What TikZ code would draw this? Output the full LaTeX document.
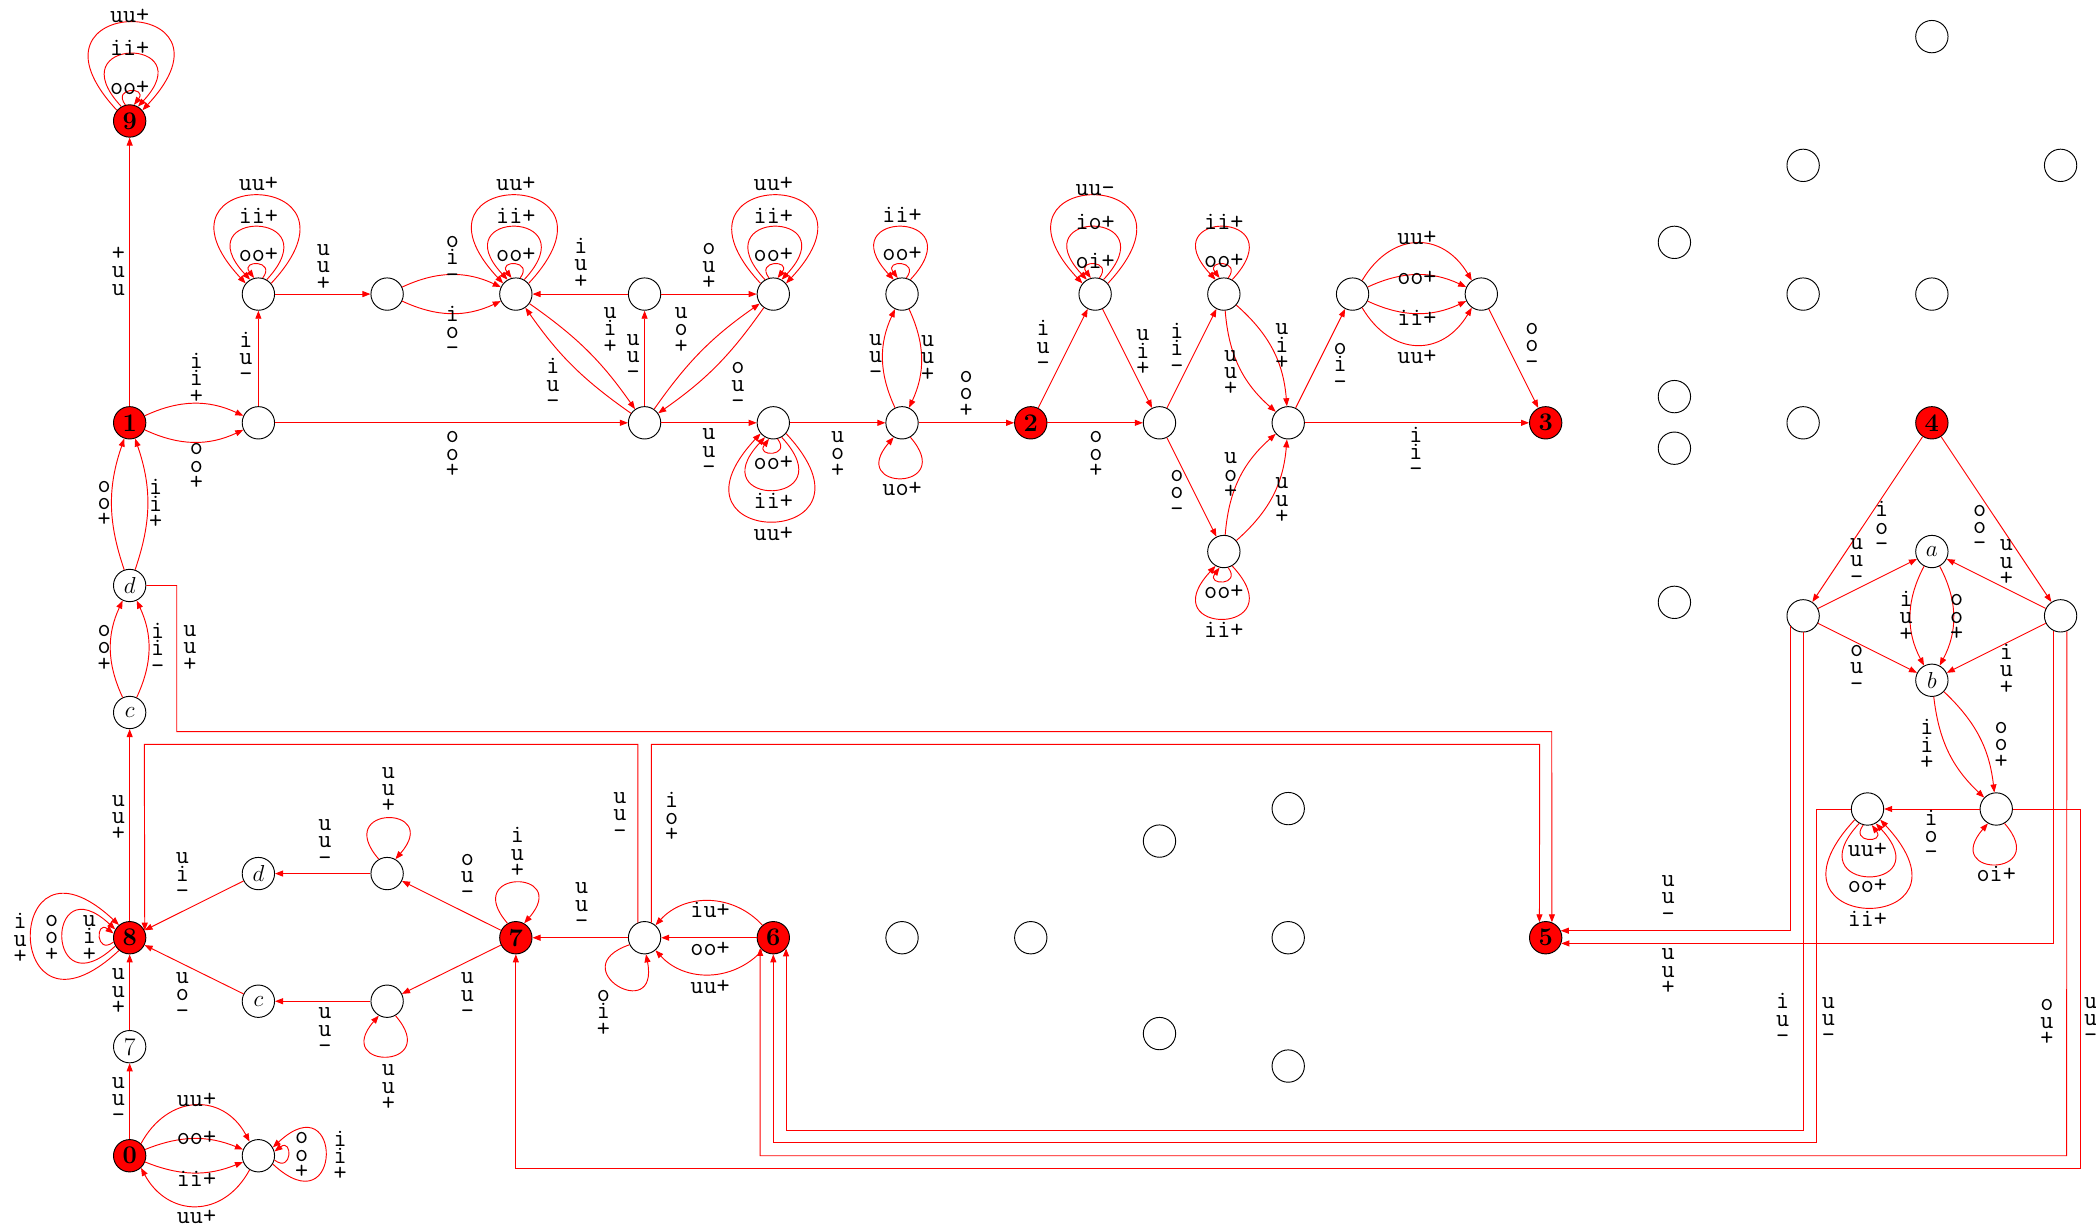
\documentclass[tikz,border=0pt]{standalone}
\usetikzlibrary{arrows.meta}
\tikzset{
 wn/.style={circle,draw=black,line width=0.7pt,minimum size=24.2pt,inner sep=0pt,font=\fontsize{19}{19}\selectfont},
 rn/.style={wn,fill=red},
 ed/.style={draw=red,line width=0.7pt,-{Triangle[length=6pt,width=4.5pt]}},
 lb/.style={font=\fontsize{19}{13}\selectfont\ttfamily,align=center,inner sep=0pt},
}
\newcommand\mn{\textendash}
\newcommand\lpA[5]{\pgfmathsetmacro\LPs{#2-#3}\pgfmathsetmacro\LPe{#2+#3}\pgfmathsetmacro\LPcs{#2-#5}\pgfmathsetmacro\LPce{#2+#5}\draw[ed] (#1.\LPs) .. controls +(\LPcs:#4) and +(\LPce:#4) .. (#1.\LPe);}
\newcommand\lpB[5]{\pgfmathsetmacro\LPs{#2-#3}\pgfmathsetmacro\LPe{#2+#3}\pgfmathsetmacro\LPcs{#2-#5}\pgfmathsetmacro\LPce{#2+#5}\draw[ed] (#1.\LPe) .. controls +(\LPce:#4) and +(\LPcs:#4) .. (#1.\LPs);}
\begin{document}
\begin{tikzpicture}[x=1pt,y=1pt]
\path[use as bounding box,fill=white] (0,0) rectangle (1568,-918);
% ---------- nodes top group
\node[rn] (n9) at (97,-90.5) {\textbf{9}};
\node[rn] (n1) at (97,-316.3) {\textbf{1}};
\node[wn] (nA) at (193.3,-316.3) {};
\node[wn] (nB) at (193.3,-220) {};
\node[wn] (nC) at (289.6,-220) {};
\node[wn] (nD) at (385.9,-220) {};
\node[wn] (nE) at (482.2,-220) {};
\node[wn] (nF) at (578.5,-220) {};
\node[wn] (nG) at (482.2,-316.3) {};
\node[wn] (nH) at (578.5,-316.3) {};
\node[wn] (nI) at (674.8,-220) {};
\node[wn] (nJ) at (674.8,-316.3) {};
\node[rn] (n2) at (771.1,-316.3) {\textbf{2}};
\node[wn] (nK) at (819.25,-220) {};
\node[wn] (nL) at (867.4,-316.3) {};
\node[wn] (nM) at (915.55,-220) {};
\node[wn] (nN) at (963.7,-316.3) {};
\node[wn] (nO) at (915.55,-412.6) {};
\node[wn] (nP) at (1011.85,-220) {};
\node[wn] (nQ) at (1108.15,-220) {};
\node[rn] (n3) at (1156.3,-316.3) {\textbf{3}};
% ---------- isolated
\node[wn] (i1) at (1445.2,-27.4) {};
\node[wn] (i2) at (1348.9,-123.7) {};
\node[wn] (i3) at (1541.5,-123.7) {};
\node[wn] (i4) at (1252.6,-181.3) {};
\node[wn] (i5) at (1348.9,-220) {};
\node[wn] (i6) at (1445.2,-220) {};
\node[wn] (i7) at (1252.6,-296.7) {};
\node[wn] (i8) at (1252.6,-335.3) {};
\node[wn] (i9) at (1348.9,-316.3) {};
\node[wn] (i10) at (1252.6,-450.6) {};
\node[wn] (i11) at (674.8,-701.5) {};
\node[wn] (i12) at (771.1,-701.5) {};
\node[wn] (i13) at (867.4,-629.2) {};
\node[wn] (i14) at (963.7,-604.9) {};
\node[wn] (i15) at (963.7,-701.5) {};
\node[wn] (i16) at (867.4,-773.2) {};
\node[wn] (i17) at (963.7,-797.5) {};
% ---------- right group
\node[rn] (n4) at (1445.2,-316.3) {\textbf{4}};
\node[wn] (na) at (1445.2,-412.6) {$a$};
\node[wn] (nb) at (1445.2,-508.9) {$b$};
\node[wn] (nL4) at (1348.9,-460.7) {};
\node[wn] (nR4) at (1541.5,-460.7) {};
\node[wn] (nS) at (1397.05,-605.2) {};
\node[wn] (nT) at (1493.35,-605.2) {};
% ---------- bottom group
\node[rn] (n5) at (1156.3,-701.5) {\textbf{5}};
\node[rn] (n6) at (578.5,-701.5) {\textbf{6}};
\node[wn] (nU) at (482.2,-701.5) {};
\node[rn] (n7r) at (385.9,-701.5) {\textbf{7}};
\node[wn] (nV) at (289.6,-653.5) {};
\node[wn] (nW) at (289.6,-749) {};
\node[wn] (nd2) at (193.3,-653.5) {$d$};
\node[wn] (nc2) at (193.3,-749) {$c$};
\node[rn] (n8) at (97,-701.5) {\textbf{8}};
\node[wn] (ns7) at (97,-783) {7};
\node[rn] (n0) at (97,-864.6) {\textbf{0}};
\node[wn] (nX) at (193.3,-864.6) {};
\node[wn] (nd1) at (97,-438) {$d$};
\node[wn] (nc1) at (97,-533) {$c$};
% ---------- edges top
\draw[ed] (n1) -- (n9);
\draw[ed] (n1) to[bend left=25] (nA);
\draw[ed] (n1) to[bend right=25] (nA);
\draw[ed] (nA) -- (nB);
\draw[ed] (nB) -- (nC);
\draw[ed] (nC) to[bend left=25] (nD);
\draw[ed] (nC) to[bend right=25] (nD);
\draw[ed] (nE) -- (nD);
\draw[ed] (nE) -- (nF);
\draw[ed] (nD) to[bend left=10] (nG);
\draw[ed] (nG) to[bend left=10] (nD);
\draw[ed] (nG) -- (nE);
\draw[ed] (nG) to[bend left=10] (nF);
\draw[ed] (nF) to[bend left=10] (nG);
\draw[ed] (nA) -- (nG);
\draw[ed] (nG) -- (nH);
\draw[ed] (nH) -- (nJ);
\draw[ed] (nJ) to[bend left=25] (nI);
\draw[ed] (nI) to[bend left=25] (nJ);
\draw[ed] (nJ) -- (n2);
\draw[ed] (n2) -- (nK);
\draw[ed] (nK) -- (nL);
\draw[ed] (n2) -- (nL);
\draw[ed] (nL) -- (nM);
\draw[ed] (nM) to[bend left=22] (nN);
\draw[ed] (nM) to[bend right=22] (nN);
\draw[ed] (nL) -- (nO);
\draw[ed] (nO) to[bend left=22] (nN);
\draw[ed] (nO) to[bend right=22] (nN);
\draw[ed] (nN) -- (nP);
\draw[ed] (nP.55) .. controls +(22,37) and +(-22,37) .. (nQ.125);
\draw[ed] (nP) to[bend left=25] (nQ);
\draw[ed] (nP) to[bend right=25] (nQ);
\draw[ed] (nP.-55) .. controls +(22,-37) and +(-22,-37) .. (nQ.-125);
\draw[ed] (nQ) -- (n3);
\draw[ed] (nN) -- (n3);
% loops top group
\lpB{n9}{90}{15}{17}{37} \lpB{n9}{90}{30}{72}{43} \lpB{n9}{90}{50}{120}{43}
\lpA{nB}{90}{15}{17}{37} \lpA{nB}{90}{30}{72}{43} \lpA{nB}{90}{50}{120}{43}
\lpA{nD}{90}{15}{17}{37} \lpA{nD}{90}{30}{72}{43} \lpA{nD}{90}{50}{120}{43}
\lpB{nF}{90}{15}{17}{37} \lpB{nF}{90}{30}{72}{43} \lpB{nF}{90}{50}{120}{43}
\lpB{nH}{270}{15}{17}{37} \lpB{nH}{270}{30}{72}{43} \lpB{nH}{270}{50}{120}{43}
\lpA{nI}{90}{15}{17}{37} \lpA{nI}{90}{30}{72}{43}
\lpB{nJ}{270}{30}{54}{41}
\lpA{nK}{90}{15}{17}{37} \lpA{nK}{90}{30}{72}{43} \lpA{nK}{90}{50}{120}{43}
\lpA{nM}{90}{15}{17}{37} \lpA{nM}{90}{30}{72}{43}
\lpB{nO}{270}{15}{17}{37} \lpB{nO}{270}{30}{72}{43}
% ---------- edges right
\draw[ed] (n4) -- (nL4);
\draw[ed] (n4) -- (nR4);
\draw[ed] (nL4) -- (na);
\draw[ed] (nR4) -- (na);
\draw[ed] (nL4) -- (nb);
\draw[ed] (nR4) -- (nb);
\draw[ed] (na) to[bend right=28] (nb);
\draw[ed] (na) to[bend left=28] (nb);
\draw[ed] (nb) to[bend right=20] (nT);
\draw[ed] (nb) to[bend left=20] (nT);
\draw[ed] (nT) -- (nS);
\lpA{nS}{270}{15}{17}{37} \lpA{nS}{270}{30}{72}{43} \lpA{nS}{270}{50}{120}{43}
\lpB{nT}{270}{30}{54}{41}
% ---------- long routed edges
\draw[ed] (nd1.east) -| (132.2,-547.3) -- (1160.83,-547.3) -- (n5.68);
\draw[ed] (nU.66) |- (1151.77,-556.8) -- (n5.112);
\draw[ed] (nU.114) |- (107.97,-556.8) -- (n8.25);
\draw[ed] (nL4.218) |- (n5.25);
\draw[ed] (nR4.246) |- (n5.-20);
\draw[ed] (nL4.south) -- (1348.9,-845.4) -| (n6.-40);
\draw[ed] (nS.west) -| (1358.6,-854.9) -| (n6.south);
\draw[ed] (nR4.292) -- (1546.03,-864.6) -| (n6.218);
\draw[ed] (nT.east) -| (1556,-874) -| (n7r.south);
% ---------- edges bottom
\draw[ed] (nd1) to[bend left=19] (n1);
\draw[ed] (nd1) to[bend right=19] (n1);
\draw[ed] (nc1) to[bend left=25] (nd1);
\draw[ed] (nc1) to[bend right=25] (nd1);
\draw[ed] (n8) -- (nc1);
\draw[ed] (ns7) -- (n8);
\draw[ed] (n0) -- (ns7);
\draw[ed] (nd2) -- (n8);
\draw[ed] (nc2) -- (n8);
\draw[ed] (nV) -- (nd2);
\draw[ed] (nW) -- (nc2);
\draw[ed] (n7r) -- (nV);
\draw[ed] (n7r) -- (nW);
\draw[ed] (nU) -- (n7r);
\draw[ed] (n6.131) .. controls +(-22,24) and +(22,24) .. (nU.49);
\draw[ed] (n6) -- (nU);
\draw[ed] (n6.-131) .. controls +(-22,-24) and +(22,-24) .. (nU.-49);
\draw[ed] (n0.47) .. controls +(20,37) and +(-20,37) .. (nX.122);
\draw[ed] (n0) to[bend left=22] (nX);
\draw[ed] (n0) to[bend right=22] (nX);
\draw[ed] (nX.-122) .. controls +(-20,-37) and +(20,-37) .. (n0.-47);
\lpB{nV}{90}{30}{54}{41}
\lpB{nW}{270}{30}{54}{41}
\lpB{n7r}{90}{30}{54}{41}
\lpA{nU}{240}{35}{54}{41}
\lpB{n8}{180}{15}{17}{37} \lpB{n8}{180}{30}{72}{43} \lpB{n8}{180}{50}{120}{43}
\lpA{nX}{0}{15}{17}{37} \lpA{nX}{0}{30}{72}{43}
% ---------- labels top group
\node[lb] (t1) at (88.5,-203) {+\\u\\u};
\node[lb] (t2) at (147,-283) {i\\i\\+};
\node[lb] (t3) at (147,-349) {o\\o\\+};
\node[lb] (t4) at (184,-267) {i\\u\\\mn};
\node[lb] (t5) at (242,-200) {u\\u\\+};
\node[lb] (t6) at (338.4,-194) {o\\i\\\mn};
\node[lb] (t7) at (338.4,-247.6) {i\\o\\\mn};
\node[lb] (t8) at (434.6,-197) {i\\u\\+};
\node[lb] (t9) at (530.4,-199.5) {o\\u\\+};
\node[lb] (t10) at (456.4,-247) {u\\i\\+};
\node[lb] (t11) at (413.6,-287) {i\\u\\\mn};
\node[lb] (t12) at (473.6,-267) {u\\u\\\mn};
\node[lb] (t13) at (509.5,-247) {u\\o\\+};
\node[lb] (t14) at (552,-288.5) {o\\u\\\mn};
\node[lb] (t15) at (338.4,-340) {o\\o\\+};
\node[lb] (t16) at (530.4,-338) {u\\u\\\mn};
\node[lb] (t17) at (626.6,-340) {u\\o\\+};
\node[lb] (t18) at (655,-267) {u\\u\\\mn};
\node[lb] (t19) at (694,-268) {u\\u\\+};
\node[lb] (t20) at (722.7,-295) {o\\o\\+};
\node[lb] (t21) at (780.3,-258.5) {i\\u\\\mn};
\node[lb] (t22) at (855,-264) {u\\i\\+};
\node[lb] (t23) at (819.8,-340) {o\\o\\+};
\node[lb] (t24) at (880.5,-260.5) {i\\i\\\mn};
\node[lb] (t25) at (920.6,-279) {u\\u\\+};
\node[lb] (t26) at (959,-259.5) {u\\i\\+};
\node[lb] (t27) at (880.5,-369) {o\\o\\\mn};
\node[lb] (t28) at (920.6,-356) {u\\o\\+};
\node[lb] (t29) at (959,-374.6) {u\\u\\+};
\node[lb] (t30) at (1002.5,-274) {o\\i\\\mn};
\node[lb] (t31) at (1060,-178.3) {uu+};
\node[lb] (t32) at (1060,-207.7) {oo+};
\node[lb] (t33) at (1060,-238.1) {ii+};
\node[lb] (t34) at (1060,-267.3) {uu+};
\node[lb] (t35) at (1146,-259) {o\\o\\\mn};
\node[lb] (t36) at (1059.2,-338) {i\\i\\\mn};
% loop labels top
\node[lb] (s1) at (97,-65.5) {oo+};
\node[lb] (s2) at (97,-36) {ii+};
\node[lb] (s3) at (97,-12) {uu+};
\node[lb] (s4) at (193.3,-190.8) {oo+};
\node[lb] (s5) at (193.3,-161.3) {ii+};
\node[lb] (s6) at (193.3,-137.2) {uu+};
\node[lb] (s7) at (385.9,-190.8) {oo+};
\node[lb] (s8) at (385.9,-161.3) {ii+};
\node[lb] (s9) at (385.9,-137.2) {uu+};
\node[lb] (s10) at (578.5,-190.8) {oo+};
\node[lb] (s11) at (578.5,-161.3) {ii+};
\node[lb] (s12) at (578.5,-137.2) {uu+};
\node[lb] (s13) at (578.5,-346) {oo+};
\node[lb] (s14) at (578.5,-374.9) {ii+};
\node[lb] (s15) at (578.5,-399.1) {uu+};
\node[lb] (s16) at (674.8,-190.3) {oo+};
\node[lb] (s17) at (674.8,-160.8) {ii+};
\node[lb] (s18) at (674.8,-366) {uo+};
\node[lb] (s19) at (819.25,-195.3) {oi+};
\node[lb] (s20) at (819.25,-165.8) {io+};
\node[lb] (s21) at (819.25,-142) {uu\mn};
\node[lb] (s22) at (915.55,-195.3) {oo+};
\node[lb] (s23) at (915.55,-165.8) {ii+};
\node[lb] (s24) at (915.55,-442.6) {oo+};
\node[lb] (s25) at (915.55,-471.3) {ii+};
% labels right group
\node[lb] (r1) at (1407.7,-394) {i\\o\\\mn};
\node[lb] (r2) at (1481,-395) {o\\o\\\mn};
\node[lb] (r3) at (1389,-420) {u\\u\\\mn};
\node[lb] (r4) at (1501,-421) {u\\u\\+};
\node[lb] (r5) at (1426,-461) {i\\u\\+};
\node[lb] (r6) at (1463.8,-462) {o\\o\\+};
\node[lb] (r7) at (1389,-500) {o\\u\\\mn};
\node[lb] (r8) at (1501,-500.6) {i\\u\\+};
\node[lb] (r9) at (1441.4,-557) {i\\i\\+};
\node[lb] (r10) at (1497,-557.5) {o\\o\\+};
\node[lb] (r11) at (1444.6,-624.5) {i\\o\\\mn};
\node[lb] (r12) at (1397,-635.5) {uu+};
\node[lb] (r13) at (1397,-663) {oo+};
\node[lb] (r14) at (1397,-687.5) {ii+};
\node[lb] (r15) at (1493.35,-654) {oi+};
\node[lb] (r16) at (1248,-672) {u\\u\\\mn};
\node[lb] (r17) at (1248,-727) {u\\u\\+};
\node[lb] (r18) at (1333.6,-762) {i\\u\\\mn};
\node[lb] (r19) at (1367.8,-763) {u\\u\\\mn};
\node[lb] (r20) at (1531.2,-765) {o\\u\\+};
\node[lb] (r21) at (1564,-763) {u\\u\\\mn};
% labels bottom group
\node[lb] (b1) at (78,-377) {o\\o\\+};
\node[lb] (b2) at (116.5,-377) {i\\i\\+};
\node[lb] (b3) at (78,-485) {o\\o\\+};
\node[lb] (b4) at (118,-485) {i\\i\\\mn};
\node[lb] (b5) at (142,-485) {u\\u\\+};
\node[lb] (b6) at (88.5,-612) {u\\u\\+};
\node[lb] (b7) at (88.5,-742) {u\\u\\+};
\node[lb] (b8) at (88.5,-823) {u\\u\\\mn};
\node[lb] (b9) at (136.4,-655) {u\\i\\\mn};
\node[lb] (b10) at (136.4,-744.5) {u\\o\\\mn};
\node[lb] (b11) at (243,-630) {u\\u\\\mn};
\node[lb] (b12) at (243,-771) {u\\u\\\mn};
\node[lb] (b13) at (290.5,-591) {u\\u\\+};
\node[lb] (b14) at (290.5,-813.6) {u\\u\\+};
\node[lb] (b15) at (349.6,-656) {o\\u\\\mn};
\node[lb] (b16) at (349.6,-745) {u\\u\\\mn};
\node[lb] (b17) at (387,-637.7) {i\\u\\+};
\node[lb] (b18) at (435.2,-677.6) {u\\u\\\mn};
\node[lb] (b19) at (463.8,-610) {u\\u\\\mn};
\node[lb] (b20) at (502.5,-611) {i\\o\\+};
\node[lb] (b21) at (531.2,-680.8) {iu+};
\node[lb] (b22) at (531.2,-709.5) {oo+};
\node[lb] (b23) at (531.2,-738.2) {uu+};
\node[lb] (b24) at (451.4,-758) {o\\i\\+};
\node[lb] (b25) at (66.8,-702) {u\\i\\+};
\node[lb] (b26) at (38.7,-702) {o\\o\\+};
\node[lb] (b27) at (15,-702) {i\\u\\+};
\node[lb] (b28) at (225.7,-864.6) {o\\o\\+};
\node[lb] (b29) at (254.4,-864.6) {i\\i\\+};
\node[lb] (b30) at (147,-822.6) {uu+};
\node[lb] (b31) at (147,-851.3) {oo+};
\node[lb] (b32) at (147,-882) {ii+};
\node[lb] (b33) at (147,-910.6) {uu+};
\end{tikzpicture}
\end{document}
